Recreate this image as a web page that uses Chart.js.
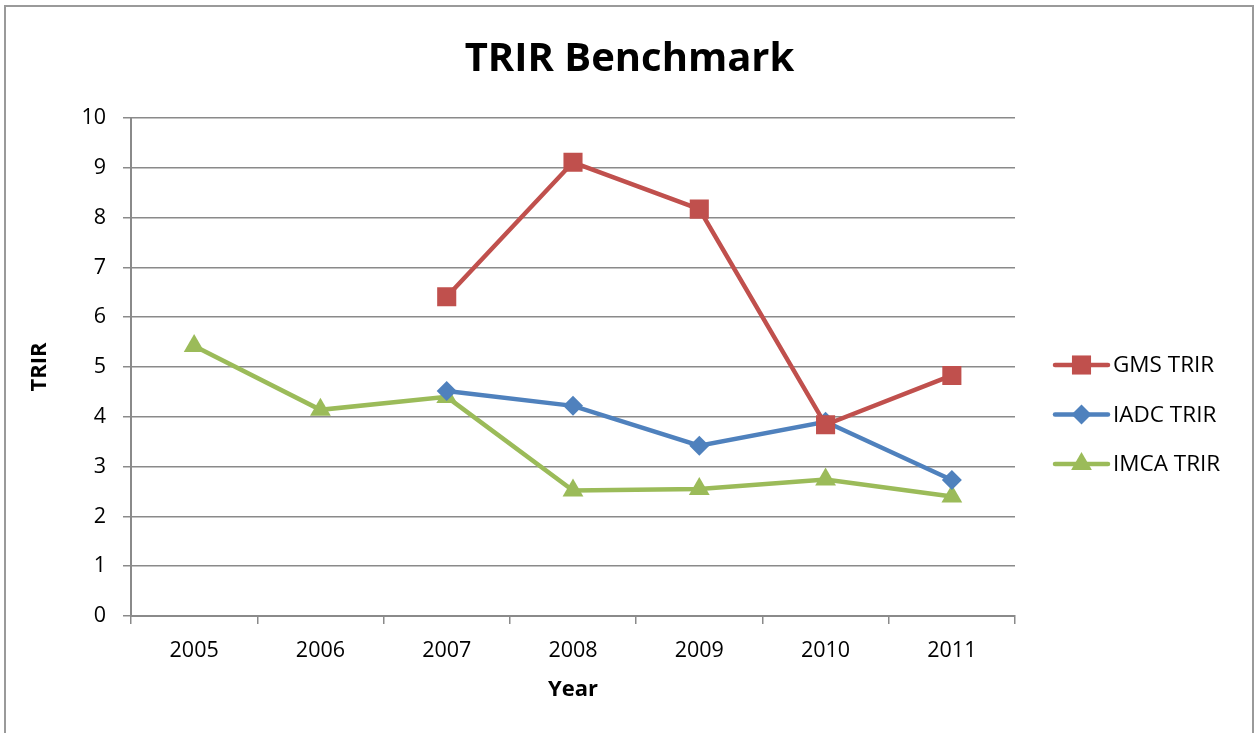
<!DOCTYPE html>
<html>
<head>
<meta charset="utf-8">
<script src="https://cdn.jsdelivr.net/npm/chart.js@4/dist/chart.umd.min.js"></script>
<style>
  html, body { margin: 0; padding: 0; background: #fff; }
  #wrap { width: 1259px; height: 733px; position: relative; }
</style>
</head>
<body>
<div id="wrap"><canvas id="chart"></canvas></div>
<script>
const years = ["2005", "2006", "2007", "2008", "2009", "2010", "2011"];
const gmsTrir = [null, null, 6.41, 9.11, 8.17, 3.84, 4.83];
const iadcTrir = [null, null, 4.52, 4.22, 3.42, 3.9, 2.73];
const imcaTrir = [5.42, 4.14, 4.4, 2.52, 2.55, 2.74, 2.4];
const yTicks = [0, 1, 2, 3, 4, 5, 6, 7, 8, 9, 10];

const FONT = "'Open Sans', 'Liberation Sans', sans-serif";
const gridGray = "#8a8a8a";

// outer frame like the spreadsheet chart border
const framePlugin = {
  id: "frame",
  beforeDraw(chart) {
    const ctx = chart.ctx;
    ctx.save();
    ctx.fillStyle = "#fff";
    ctx.fillRect(0, 0, chart.width, chart.height);
    ctx.strokeStyle = "#9a9a9a";
    ctx.lineWidth = 2;
    ctx.strokeRect(5, 6, chart.width - 11, chart.height + 20);
    ctx.restore();
  }
};

// legend with a line segment and marker, like Excel
const lineLegend = {
  id: "lineLegend",
  afterDraw(chart) {
    const ctx = chart.ctx;
    const area = chart.chartArea;
    const x0 = area.right + 40;
    const x1 = x0 + 53;
    let y = 365;
    ctx.save();
    chart.data.datasets.forEach(ds => {
      ctx.strokeStyle = ds.borderColor;
      ctx.lineWidth = 4.5;
      ctx.lineCap = "round";
      ctx.beginPath();
      ctx.moveTo(x0, y);
      ctx.lineTo(x1, y);
      ctx.stroke();
      ctx.fillStyle = ds.backgroundColor;
      Chart.helpers.drawPoint(ctx, {
        pointStyle: ds.pointStyle, radius: ds.pointRadius, rotation: 0, borderWidth: 0
      }, (x0 + x1) / 2, y);
      ctx.fillStyle = "#000";
      ctx.font = "22.5px " + FONT;
      ctx.textBaseline = "middle";
      ctx.textAlign = "left";
      ctx.fillText(ds.label, x1 + 5, y + 1);
      y += 49.5;
    });
    ctx.restore();
  }
};

new Chart(document.getElementById("chart"), {
  type: "line",
  data: {
    labels: years,
    datasets: [
      {
        label: "GMS TRIR",
        data: gmsTrir,
        borderColor: "#c0504d",
        backgroundColor: "#c0504d",
        borderWidth: 4.5,
        pointStyle: "rect",
        pointRadius: 13.5,
        pointBorderWidth: 0
      },
      {
        label: "IADC TRIR",
        data: iadcTrir,
        borderColor: "#4f81bd",
        backgroundColor: "#4f81bd",
        borderWidth: 4.5,
        pointStyle: "rectRot",
        pointRadius: 10,
        pointBorderWidth: 0
      },
      {
        label: "IMCA TRIR",
        data: imcaTrir,
        borderColor: "#9bbb59",
        backgroundColor: "#9bbb59",
        borderWidth: 4.5,
        pointStyle: "triangle",
        pointRadius: 12,
        pointBorderWidth: 0
      }
    ]
  },
  options: {
    responsive: true,
    maintainAspectRatio: false,
    animation: false,
    layout: {
      padding: { left: 0, right: 0, top: 0, bottom: 0 }
    },
    plugins: {
      legend: { display: false },
      tooltip: { enabled: false },
      title: {
        display: true,
        text: "TRIR Benchmark",
        color: "#000",
        font: { family: FONT, size: 40, weight: "bold", lineHeight: 1.2 },
        padding: { top: 36, bottom: 34 }
      }
    },
    scales: {
      x: {
        offset: true,
        grid: {
          offset: true,
          drawOnChartArea: false,
          drawTicks: true,
          tickLength: 8,
          color: gridGray,
          lineWidth: 1.5
        },
        border: { color: gridGray, width: 2 },
        ticks: {
          color: "#000",
          padding: 14,
          font: { family: FONT, size: 21.5 }
        },
        title: {
          display: true,
          text: "Year",
          color: "#000",
          font: { family: FONT, size: 22, weight: "bold", lineHeight: 1.2 },
          padding: { top: 0, bottom: 30 }
        },
        afterFit(scale) { scale.height = 117; }
      },
      y: {
        min: 0,
        max: 10,
        afterBuildTicks(scale) { scale.ticks = yTicks.map(v => ({ value: v })); },
        grid: {
          color: gridGray,
          lineWidth: 1.5,
          drawTicks: true,
          tickLength: 8
        },
        border: { color: gridGray, width: 2 },
        ticks: {
          color: "#000",
          padding: 17,
          font: { family: FONT, size: 21.5 }
        },
        title: {
          display: true,
          text: "TRIR",
          color: "#000",
          font: { family: FONT, size: 22, weight: "bold", lineHeight: 1.2 },
          padding: { top: 27, bottom: 0 }
        },
        afterFit(scale) { scale.width = 131; }
      },
      // empty right-hand axis that reserves room for the legend
      legendSpace: {
        type: "linear",
        position: "right",
        display: true,
        grid: { display: false, drawTicks: false },
        border: { display: false },
        ticks: { display: false },
        afterFit(scale) { scale.width = 244; }
      }
    }
  },
  plugins: [framePlugin, lineLegend]
});
</script>
</body>
</html>
